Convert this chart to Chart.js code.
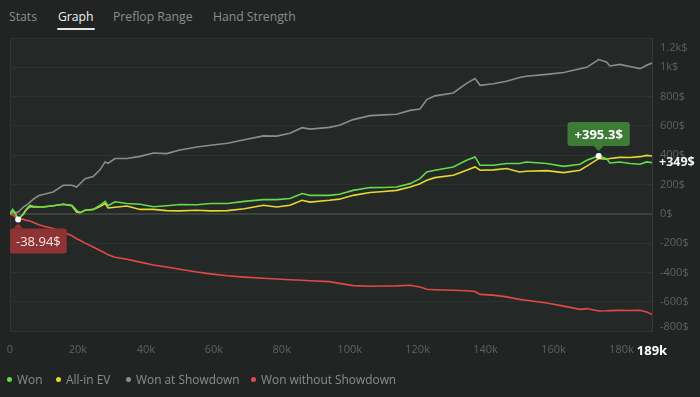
<!DOCTYPE html>
<html>
<head>
<meta charset="utf-8">
<script src="https://cdn.jsdelivr.net/npm/chart.js@4.4.1/dist/chart.umd.min.js"></script>
<style>
  html, body { margin: 0; padding: 0; background: #212422; width: 700px; height: 397px; overflow: hidden; font-family: "Open Sans", "Noto Sans", sans-serif; }
  .tab { position: absolute; top: 8px; font-size: 12.2px; color: #8b8f8b; white-space: nowrap; line-height: 18px; }
  .tab.active { color: #f2f2f2; }
  .tab.active::after { content: ''; position: absolute; left: -1px; right: -1px; top: 20px; height: 2px; background: #e6e6e6; border-radius: 1px; }
  #wrap { position: absolute; left: 0; top: 0; width: 700px; height: 397px; }
  .legend-item { position: absolute; top: 371px; font-size: 11.9px; line-height: 16px; color: #8b8f8b; white-space: nowrap; }
  .dot { display: inline-block; width: 5px; height: 5px; border-radius: 50%; margin-right: 5px; vertical-align: 2px; }
</style>
</head>
<body>
<div class="tab" style="left:9px">Stats</div>
<div class="tab active" style="left:58px">Graph</div>
<div class="tab" style="left:113px">Preflop Range</div>
<div class="tab" style="left:213px">Hand Strength</div>

<div id="wrap"><canvas id="graph" width="700" height="397"></canvas></div>

<div id="legend"></div>

<script>
// --- Data (hands in thousands, values in $) ---
const handsK = [0, 0.8, 1.5, 2.4, 3.9, 4.9, 5.9, 6.9, 8.5, 10, 12.7, 15.7, 18.2, 19.6, 20.6, 22.1, 24.5, 26.5, 28, 28.9,
  30.9, 34.4, 38.3, 42.2, 46.1, 50, 55, 59, 64, 69, 74.6, 78.5, 82.4, 86, 88.3, 94, 97, 101, 106, 110,
  113.8, 117.8, 120.7, 122.7, 125.1, 130.5, 134.4, 136.9, 138.4, 142.3, 146.2, 150, 152, 158, 163, 167.8, 169.8, 173.3, 175.6, 176.6,
  179.5, 182.5, 185.5, 187.4, 189];

const wonValues = [0, 29, 5, -38.94, 0, 35, 58, 51, 48, 46, 55, 65, 58, 24, 8, 24, 29, 58, 85, 55,
  82, 70, 65, 48, 55, 63, 62, 70, 70, 85, 97, 97, 104, 138, 126, 126, 133, 160, 179, 180,
  183, 206, 240, 285, 297, 320, 365, 388, 331, 331, 343, 343, 354, 343, 324, 338, 365, 395.3, 377, 347,
  354, 343, 338, 354, 349];

const allInEvValues = [0, 25, 5, -35, -5, 30, 50, 46, 46, 48, 55, 65, 55, 12, 8, 24, 30, 50, 70, 40,
  45, 53, 30, 30, 22, 20, 24, 20, 22, 35, 58, 46, 58, 92, 80, 92, 100, 126, 145, 152,
  160, 183, 205, 229, 247, 263, 297, 320, 297, 300, 309, 285, 290, 295, 281, 297, 325, 377, 372, 377,
  385, 384, 390, 399, 395];

const showdownValues = [0, 5, 8, 12, 46, 60, 80, 100, 125, 133, 149, 195, 195, 183, 205, 240, 255, 300, 354, 345,
  377, 377, 392, 415, 411, 435, 456, 468, 482, 506, 532, 530, 550, 588, 578, 590, 604, 643, 670, 675,
  679, 706, 715, 780, 805, 825, 890, 923, 877, 888, 905, 930, 939, 952, 965, 990, 1000, 1053, 1036, 1009,
  1020, 1005, 991, 1014, 1029];

const noShowdownValues = [0, -8, -20, -30, -38, -45, -49, -60, -75, -85, -101, -125, -150, -170, -181, -200, -227, -250, -268, -280,
  -297, -310, -330, -350, -363, -378, -397, -410, -423, -432, -440, -445, -450, -454, -457, -463, -475, -490, -495, -493,
  -492, -488, -500, -515, -518, -522, -525, -530, -550, -555, -567, -584, -590, -609, -630, -652, -647, -663, -662, -661,
  -659, -660, -659, -670, -686];

const xTickValues = [0, 20000, 40000, 60000, 80000, 100000, 120000, 140000, 160000, 180000, 189000];

const SERIES = [
  { label: 'Won', values: wonValues, color: '#62dc4b' },
  { label: 'All-in EV', values: allInEvValues, color: '#e6d830' },
  { label: 'Won at Showdown', values: showdownValues, color: '#8c8c8c' },
  { label: 'Won without Showdown', values: noShowdownValues, color: '#e24848' }
];

const TICK_COLOR = '#5e625e';

// --- Helpers ---
const formatDollarTick = (v) => {
  if (Math.abs(v) >= 1000) return (v / 1000) + 'k$';
  return v + '$';
};
const formatHands = (v) => (v === 0 ? '0' : (v / 1000) + 'k');

const roundRect = (ctx, x, y, w, h, r) => {
  ctx.beginPath();
  ctx.moveTo(x + r, y);
  ctx.lineTo(x + w - r, y);
  ctx.quadraticCurveTo(x + w, y, x + w, y + r);
  ctx.lineTo(x + w, y + h - r);
  ctx.quadraticCurveTo(x + w, y + h, x + w - r, y + h);
  ctx.lineTo(x + r, y + h);
  ctx.quadraticCurveTo(x, y + h, x, y + h - r);
  ctx.lineTo(x, y + r);
  ctx.quadraticCurveTo(x, y, x + r, y);
  ctx.closePath();
};

// --- Plugin: panel background, y labels, callouts ---
const graphDecor = {
  id: 'graphDecor',
  beforeDraw(chart) {
    const { ctx, chartArea: a } = chart;
    ctx.save();
    ctx.fillStyle = '#242826';
    ctx.fillRect(a.left, a.top, a.right - a.left, a.bottom - a.top);
    ctx.strokeStyle = '#323633';
    ctx.lineWidth = 1;
    ctx.beginPath();
    ctx.moveTo(a.left + 0.5, a.bottom);
    ctx.lineTo(a.left + 0.5, a.top + 0.5);
    ctx.lineTo(a.right, a.top + 0.5);
    ctx.stroke();
    ctx.restore();
  },
  afterDraw(chart) {
    const { ctx, chartArea: a } = chart;
    const xs = chart.scales.x;
    const ys = chart.scales.y;
    ctx.save();

    // y tick labels (kept inside the panel at the edges)
    ctx.font = '11px "Open Sans", sans-serif';
    ctx.fillStyle = TICK_COLOR;
    ctx.textAlign = 'left';
    ctx.textBaseline = 'middle';
    ys.ticks.forEach(t => {
      let py = ys.getPixelForValue(t.value);
      py = Math.max(a.top + 10, Math.min(a.bottom - 4, py));
      ctx.fillText(formatDollarTick(t.value), a.right + 8, py);
    });

    // last value label of "Won"
    const last = wonValues[wonValues.length - 1];
    ctx.font = 'bold 12.5px "Open Sans", sans-serif';
    ctx.fillStyle = '#f4f4f4';
    ctx.fillText('+' + Math.round(last) + '$', a.right + 7, ys.getPixelForValue(last));

    // max callout (green)
    const maxIdx = wonValues.indexOf(Math.max(...wonValues));
    const mx = xs.getPixelForValue(handsK[maxIdx] * 1000);
    const my = ys.getPixelForValue(wonValues[maxIdx]);
    const maxText = '+' + wonValues[maxIdx] + '$';
    ctx.font = 'bold 13px "Open Sans", sans-serif';
    let w = ctx.measureText(maxText).width + 14;
    let h = 24;
    let bx = mx - w / 2;
    let by = my - 10 - h;
    ctx.fillStyle = '#3d7b37';
    roundRect(ctx, bx, by, w, h, 3);
    ctx.fill();
    ctx.beginPath();
    ctx.moveTo(mx - 5, by + h);
    ctx.lineTo(mx + 5, by + h);
    ctx.lineTo(mx, by + h + 5);
    ctx.closePath();
    ctx.fill();
    ctx.fillStyle = '#ffffff';
    ctx.textAlign = 'center';
    ctx.fillText(maxText, mx, by + h / 2 + 1);

    // min callout (red)
    const minIdx = wonValues.indexOf(Math.min(...wonValues));
    const nx = xs.getPixelForValue(handsK[minIdx] * 1000);
    const ny = ys.getPixelForValue(wonValues[minIdx]);
    const minText = wonValues[minIdx] + '$';
    ctx.font = '13px "Open Sans", sans-serif';
    w = ctx.measureText(minText).width + 12;
    h = 25;
    bx = Math.max(a.left, nx - w / 2);
    by = ny + 9;
    ctx.fillStyle = '#8e3333';
    roundRect(ctx, bx, by, w, h, 3);
    ctx.fill();
    ctx.beginPath();
    ctx.moveTo(nx - 5, by);
    ctx.lineTo(nx + 5, by);
    ctx.lineTo(nx, by - 5);
    ctx.closePath();
    ctx.fill();
    ctx.fillStyle = '#f6e8e8';
    ctx.fillText(minText, bx + w / 2, by + h / 2 + 1);

    // marker dots
    ctx.fillStyle = '#ffffff';
    [[mx, my], [nx, ny]].forEach(([px, py]) => {
      ctx.beginPath();
      ctx.arc(px, py, 3, 0, Math.PI * 2);
      ctx.fill();
    });
    ctx.restore();
  }
};

// --- Chart ---
const ctx = document.getElementById('graph').getContext('2d');
new Chart(ctx, {
  type: 'line',
  data: {
    datasets: SERIES.map(s => ({
      label: s.label,
      data: handsK.map((k, i) => ({ x: k * 1000, y: s.values[i] })),
      borderColor: s.color,
      backgroundColor: s.color,
      borderWidth: 1.6,
      pointRadius: 0,
      tension: 0,
      fill: false
    }))
  },
  options: {
    responsive: false,
    animation: false,
    layout: { padding: { left: 10, top: 38, right: 0, bottom: 37 } },
    plugins: { legend: { display: false }, tooltip: { enabled: false } },
    scales: {
      x: {
        type: 'linear',
        min: 0,
        max: 189000,
        afterBuildTicks: (scale) => { scale.ticks = xTickValues.map(v => ({ value: v })); },
        afterFit: (scale) => { scale.height = 29; scale.paddingLeft = 0; scale.paddingRight = 0; },
        grid: { display: false, drawTicks: false },
        border: { display: false },
        ticks: {
          autoSkip: false,
          maxRotation: 0,
          padding: 12,
          color: (c) => (c.tick && c.tick.value === 189000 ? '#ffffff' : TICK_COLOR),
          font: (c) => (c.tick && c.tick.value === 189000
            ? { family: '"Open Sans", sans-serif', size: 13, weight: 'bold' }
            : { family: '"Open Sans", sans-serif', size: 11 }),
          callback: (v) => formatHands(v)
        }
      },
      y: {
        position: 'right',
        min: -800,
        max: 1200,
        afterFit: (scale) => { scale.width = 48; },
        grid: {
          drawTicks: false,
          color: (c) => (c.tick && c.tick.value === 0 ? '#3e423f' : '#2e322f'),
          lineWidth: (c) => (c.tick && c.tick.value === 0 ? 2 : 1)
        },
        border: { display: true, color: '#363a37' },
        ticks: { stepSize: 200, display: false }
      }
    }
  },
  plugins: [graphDecor]
});

// --- Legend ---
const legendEl = document.getElementById('legend');
const legendLefts = [7, 56, 126, 251];
SERIES.forEach((s, i) => {
  const item = document.createElement('div');
  item.className = 'legend-item';
  item.style.left = legendLefts[i] + 'px';
  item.innerHTML = `<span class="dot" style="background:${s.color}"></span>${s.label}`;
  legendEl.appendChild(item);
});
</script>
</body>
</html>
